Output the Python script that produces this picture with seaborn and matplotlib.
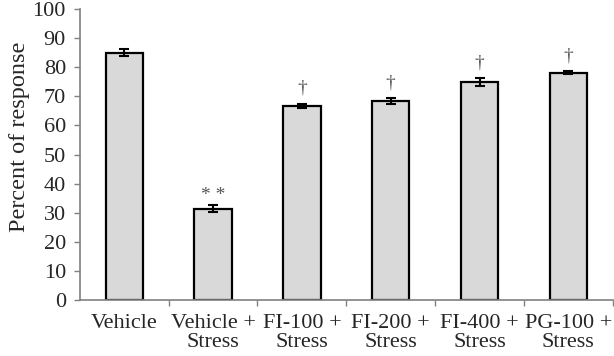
import numpy as np
import pandas as pd
import matplotlib
matplotlib.use("Agg")
import matplotlib.pyplot as plt
import seaborn as sns

# data
groups = ["Vehicle", "Vehicle +\nStress", "FI-100 +\nStress", "FI-200 +\nStress",
          "FI-400 +\nStress", "PG-100 +\nStress"]
response = [85.0, 31.4, 66.6, 68.3, 74.9, 78.1]
sem = [1.1, 1.1, 0.8, 1.0, 1.3, 0.5]
marks = ["", "* *", "\u2020", "\u2020", "\u2020", "\u2020"]

df = pd.DataFrame({"group": groups, "response": response, "sem": sem, "mark": marks})

sns.set_style("white")
plt.rcParams["font.family"] = ["Liberation Serif", "DejaVu Serif"]

fig = plt.figure(figsize=(6.14, 3.56), dpi=100)
ax = fig.add_axes([0.130, 0.157, 0.868, 0.818])

sns.barplot(data=df, x="group", y="response", color="#d9d9d9", width=0.42,
            edgecolor="black", linewidth=1.6, saturation=1, ax=ax)
ax.errorbar(np.arange(len(df)), df["response"], yerr=df["sem"], fmt="none",
            ecolor="black", elinewidth=1.5, capsize=3.5, capthick=1.5)

for i, row in df.iterrows():
    if row["mark"]:
        off = 1 if row["mark"].startswith("*") else 5
        ax.annotate(row["mark"], (i, row["response"] + row["sem"]),
                    xytext=(0, off), textcoords="offset points",
                    ha="center", va="bottom", fontsize=14, color="#555555")

ax.set_ylim(0, 100)
ax.set_xlim(-0.5, len(df) - 0.5)
ax.set_yticks(range(0, 101, 10))
ax.tick_params(axis="y", labelsize=16, length=4, width=1, color="#808080", left=True, pad=6)
ax.set_xticks(np.arange(len(df)))
ax.set_xticklabels(groups)
ax.tick_params(axis="x", which="major", length=0, labelsize=16, pad=10)
ax.set_xticks(np.arange(len(df)) + 0.5, minor=True)
ax.tick_params(axis="x", which="minor", length=4, width=1, color="#808080", bottom=True)
for t in ax.get_xticklabels():
    t.set_linespacing(1.0)

ax.set_xlabel("")
ax.set_ylabel("Percent of response", fontsize=17.5)
ax.yaxis.set_label_coords(-0.093, 0.56)
sns.despine(ax=ax)
for s in ["left", "bottom"]:
    ax.spines[s].set_color("#808080")
    ax.spines[s].set_linewidth(1.2)

fig.savefig("out.png", dpi=100)
